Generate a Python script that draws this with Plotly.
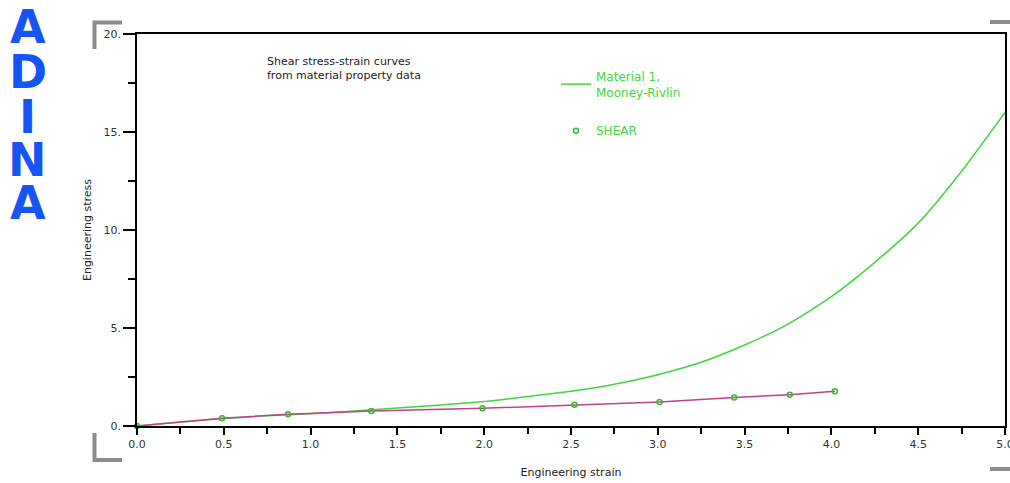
import plotly.graph_objects as go

# ---- data ----
mr_strain = [0.0, 0.25, 0.5, 0.75, 1.0, 1.25, 1.5, 1.75, 2.0, 2.25, 2.5, 2.75,
             3.0, 3.25, 3.5, 3.75, 4.0, 4.25, 4.5, 4.75, 5.0]
mr_stress = [0.0, 0.2, 0.38, 0.52, 0.63, 0.76, 0.92, 1.07, 1.25, 1.5, 1.77, 2.13,
             2.62, 3.25, 4.13, 5.2, 6.6, 8.35, 10.35, 13.0, 16.0]

shear_strain = [0.0, 0.49, 0.87, 1.35, 1.99, 2.52, 3.01, 3.44, 3.76, 4.02]
shear_stress = [0.0, 0.39, 0.6, 0.77, 0.9, 1.09, 1.23, 1.45, 1.6, 1.77]

x_ticks = [0.0, 0.5, 1.0, 1.5, 2.0, 2.5, 3.0, 3.5, 4.0, 4.5, 5.0]
y_ticks = [0, 5, 10, 15, 20]
y_tick_labels = ["0.", "5.", "10.", "15.", "20."]

logo_letters = ["A", "D", "I", "N", "A"]

# ---- layout geometry (pixels) ----
W, H = 1010, 483
L, R, T, B = 137, 1005, 34, 426


def px(x):
    return (x - L) / (R - L)


def py(y):
    return (B - y) / (B - T)


FONT = "DejaVu Sans"
GREEN = "#3fd63f"
MAGENTA = "#c2408a"

fig = go.Figure()

fig.add_trace(go.Scatter(
    x=mr_strain, y=mr_stress, mode="lines",
    line=dict(color=GREEN, width=1.5, shape="spline", smoothing=0.6),
    name="Material 1,<br>Mooney-Rivlin", legendgroup="a",
    cliponaxis=False,
))
fig.add_trace(go.Scatter(
    x=shear_strain, y=shear_stress, mode="lines",
    line=dict(color=MAGENTA, width=1.5),
    showlegend=False, cliponaxis=False,
))
fig.add_trace(go.Scatter(
    x=shear_strain, y=shear_stress, mode="markers",
    marker=dict(symbol="circle-open", size=5, color="#2fbf2f", line=dict(width=1.5)),
    name="SHEAR", legendgroup="b", cliponaxis=False,
))

shapes = []
gray = "#8c8c8c"
for path in [
    f"M {px(94.5)},{py(49)} L {px(94.5)},{py(22.5)} L {px(122)},{py(22.5)}",
    f"M {px(990)},{py(22)} L {px(1010)},{py(22)}",
    f"M {px(94.5)},{py(433)} L {px(94.5)},{py(460)} L {px(122)},{py(460)}",
    f"M {px(990)},{py(469)} L {px(1010)},{py(469)}",
]:
    shapes.append(dict(type="path", path=path, xref="paper", yref="paper",
                       line=dict(color=gray, width=4)))

annotations = [
    dict(text="Shear stress-strain curves<br>from material property data",
         x=px(265), y=py(53), xref="paper", yref="paper",
         xanchor="left", yanchor="top", align="left", showarrow=False,
         font=dict(family=FONT, size=11, color="#222222")),
]

logo_centers = [27, 72, 117, 160, 203]
for letter, cy in zip(logo_letters, logo_centers):
    annotations.append(dict(text=f"<b>{letter}</b>", x=px(28), y=py(cy), xref="paper", yref="paper",
                            xanchor="center", yanchor="middle", showarrow=False,
                            height=40, valign="middle",
                            font=dict(family=FONT, size=46, color="#1655f5")))

fig.update_layout(
    width=W, height=H,
    margin=dict(l=L, r=W - R, t=T, b=H - B),
    paper_bgcolor="white", plot_bgcolor="white",
    showlegend=True,
    legend=dict(x=px(556), y=py(62), xanchor="left", yanchor="top",
                bgcolor="rgba(0,0,0,0)", font=dict(family=FONT, size=12, color=GREEN),
                traceorder="grouped", tracegroupgap=20, itemwidth=30),
    shapes=shapes, annotations=annotations,
    font=dict(family=FONT, size=11, color="#222222"),
)

fig.update_xaxes(
    range=[0, 5], tickvals=x_ticks, tickformat=".1f", ticklabeloverflow="allow",
    automargin=False,
    showline=True, linecolor="black", linewidth=1.5, mirror=True,
    ticks="outside", ticklen=7, tickcolor="black", tickwidth=1.5,
    minor=dict(dtick=0.25, ticks="outside", ticklen=6, tickcolor="black", tickwidth=1.5),
    showgrid=False, zeroline=False,
    tickfont=dict(family=FONT, size=11, color="#333333"),
    title=dict(text="Engineering strain", standoff=18,
               font=dict(family=FONT, size=11, color="#222222")),
)
fig.update_yaxes(
    range=[0, 20], tickvals=y_ticks, ticktext=y_tick_labels,
    automargin=False,
    showline=True, linecolor="black", linewidth=1.5, mirror=True,
    ticks="outside", ticklen=12, tickcolor="black", tickwidth=1.5,
    minor=dict(dtick=2.5, ticks="outside", ticklen=7, tickcolor="black", tickwidth=1.5),
    showgrid=False, zeroline=False,
    tickfont=dict(family=FONT, size=11, color="#333333"),
    title=dict(text="Engineering stress", standoff=10,
               font=dict(family=FONT, size=11, color="#222222")),
)

fig.write_html("out.html")
